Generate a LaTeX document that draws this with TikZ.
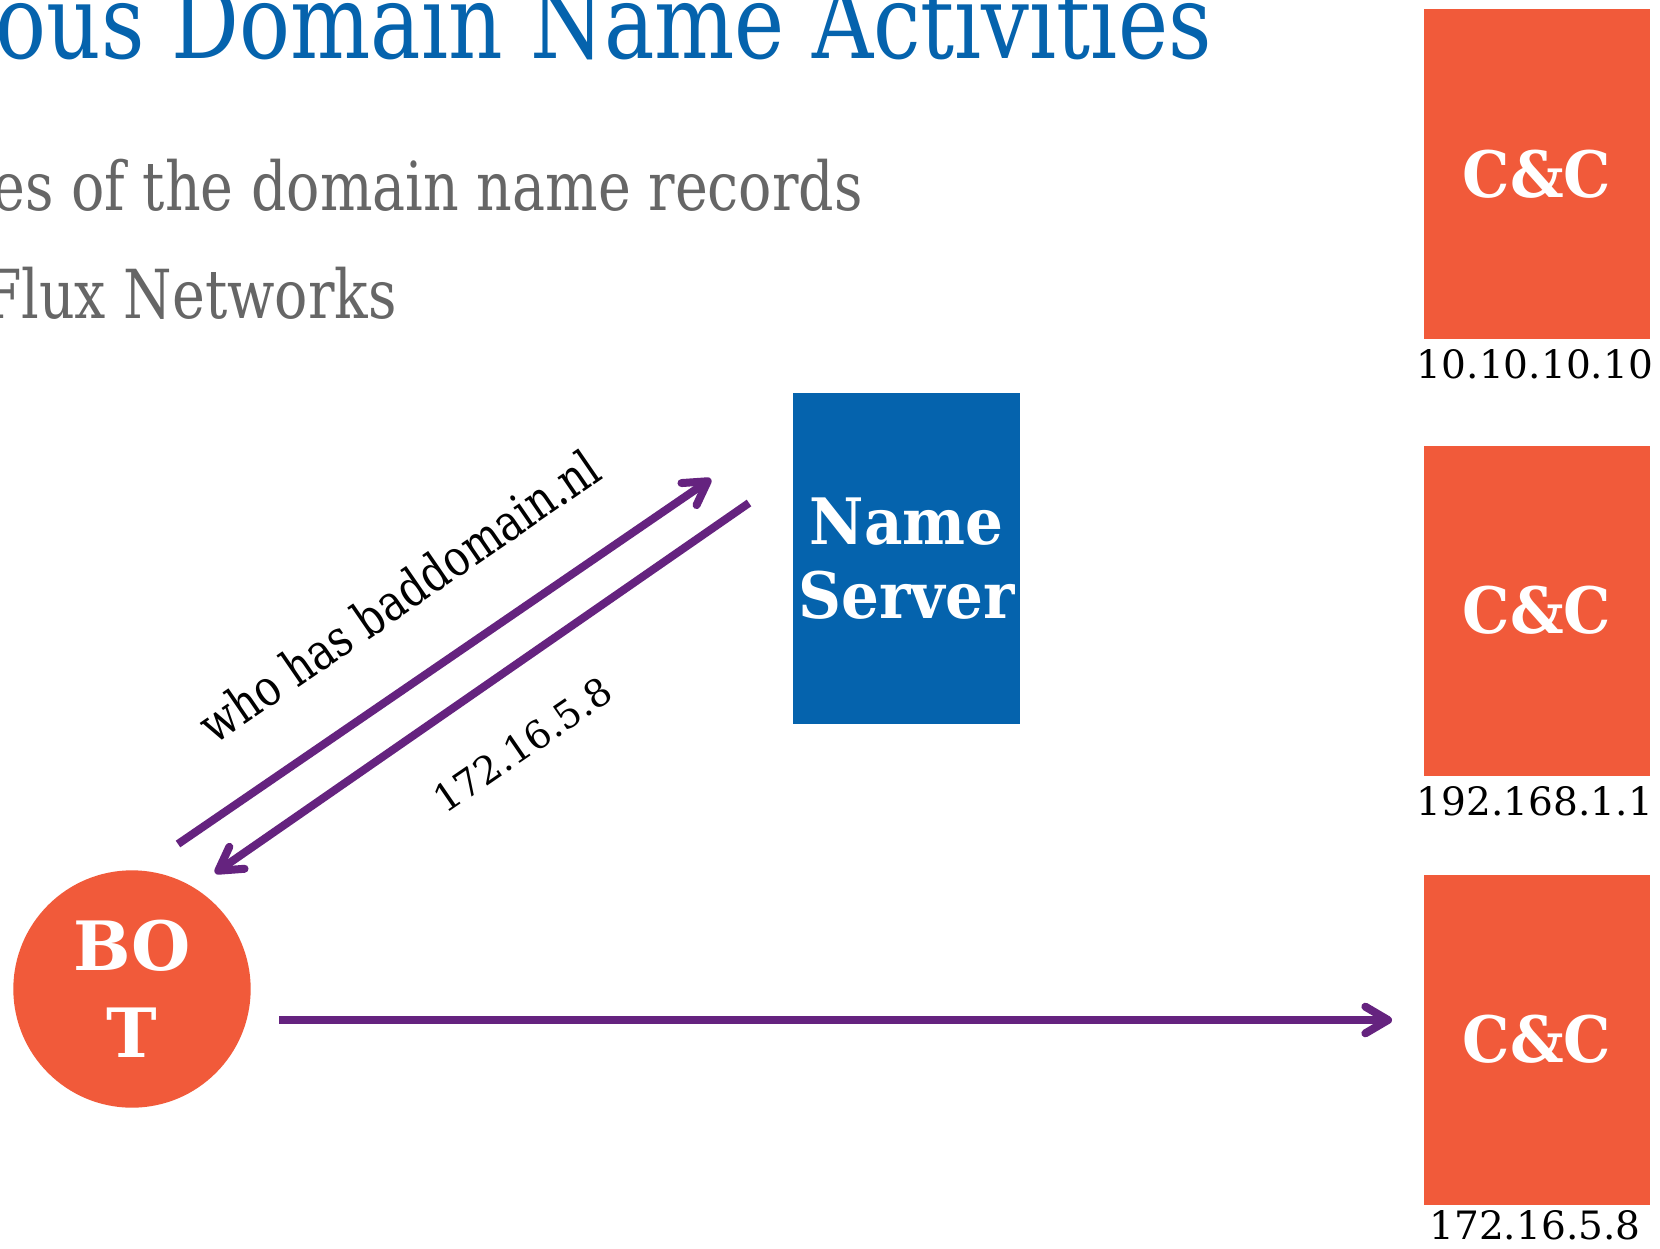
\documentclass[tikz,border=0pt]{standalone}
\usepackage{fontspec}
\setmainfont{DejaVu Serif}
\newfontfamily\narrowserif[FakeStretch=0.82]{DejaVu Serif}
\newfontfamily\boldnarrow[FakeStretch=0.93]{DejaVu Serif Bold}
\usetikzlibrary{arrows.meta}
\definecolor{ccred}{HTML}{F15A3A}
\definecolor{nsblue}{HTML}{0563AD}
\definecolor{arrowpurple}{HTML}{65237F}
\definecolor{subgray}{HTML}{666666}
\tikzset{
  ccbox/.style={fill=ccred, minimum width=169.5pt, minimum height=247.5pt, inner sep=0pt,
    text=white, font=\boldnarrow\fontsize{48}{55}\selectfont},
  nsbox/.style={fill=nsblue, minimum width=170.25pt, minimum height=248.25pt, inner sep=0pt,
    text=white, align=center, font=\boldnarrow\fontsize{48}{55.5}\selectfont},
  botnode/.style={circle, fill=ccred, minimum size=178pt, inner sep=0pt,
    text=white, align=center, font=\bfseries\fontsize{51}{65}\selectfont},
  iplabel/.style={anchor=base, inner sep=0pt, font=\fontsize{29.3}{30}\selectfont},
  msg/.style={inner sep=0pt, font=\narrowserif\fontsize{38}{40}\selectfont},
  nummsg/.style={inner sep=0pt, font=\fontsize{28.6}{30}\selectfont},
  flow/.style={draw=arrowpurple, line width=6pt, -{Straight Barb[length=17pt,width=20pt,round]}},
  titletext/.style={anchor=base east, inner sep=0pt, text=nsblue, font=\narrowserif\fontsize{77.5}{80}\selectfont},
  subtext/.style={anchor=base east, inner sep=0pt, text=subgray, font=\narrowserif\fontsize{50.7}{56}\selectfont}
}
\begin{document}
\begin{tikzpicture}[x=0.75pt,y=-0.75pt]
\useasboundingbox (0,0) rectangle (1660,1249);
\clip (0,0) rectangle (1660,1249);
\fill[white] (0,0) rectangle (1660,1249);

\node[titletext] (title) at (1212,58) {ous Domain Name Activities};
\node[subtext] (sub1) at (863,210) {es of the domain name records};
\node[subtext] (sub2) at (397,318) {Flux Networks};

\node[ccbox] (cc1) at (1537,174) {C\&C};
\node[ccbox] (cc2) at (1537,610.5) {C\&C};
\node[ccbox] (cc3) at (1537,1039.5) {C\&C};
\node[iplabel] (ip1) at (1535,378) {10.10.10.10};
\node[iplabel] (ip2) at (1535,815) {192.168.1.1};
\node[iplabel] (ip3) at (1535,1239) {172.16.5.8};

\node[nsbox] (ns) at (906.5,558.5) {Name\\Server};
\node[botnode] (bot) at (132,989) {BO\\T};

\coordinate (q1) at (178,844);
\coordinate (q2) at (711,479);
\coordinate (r1) at (749,503);
\coordinate (r2) at (215,873);
\coordinate (c1) at (279,1020);
\coordinate (c2) at (1392,1020);

\draw[flow] (q1) -- (q2);
\draw[flow] (r1) -- (r2);
\draw[flow] (c1) -- (c2);

\node[msg, rotate=34.5] (qlabel) at (399,596) {who has baddomain.nl};
\node[nummsg, rotate=34.5] (rlabel) at (523,745) {172.16.5.8};
\end{tikzpicture}
\end{document}
